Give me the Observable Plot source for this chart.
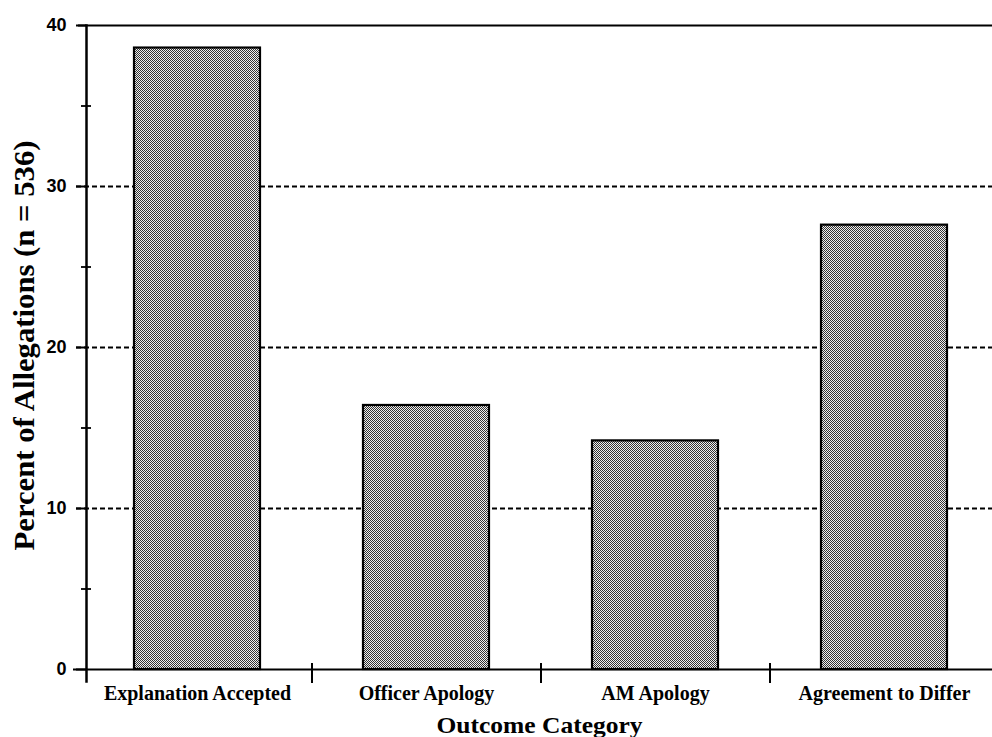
<!DOCTYPE html>
<html><head><meta charset="utf-8">
<script src="https://cdn.jsdelivr.net/npm/d3@7"></script>
<script src="https://cdn.jsdelivr.net/npm/@observablehq/plot@0.6"></script>
<style>body{margin:0;background:#fff}</style>
</head><body><div id="chart"></div>
<script>
const categories = ["Explanation Accepted", "Officer Apology", "AM Apology", "Agreement to Differ"];
const percents = [38.6, 16.4, 14.2, 27.6];
const majorTicks = [0, 10, 20, 30, 40];
const gridTicks = [10, 20, 30];
const minorTicks = [5, 15, 25, 35];
const yLabel = "Percent of Allegations (n = 536)";
const xLabel = "Outcome Category";

const data = categories.map((c, i) => ({category: c, value: percents[i]}));
const W = 992, ML = 86;
const xRange = [82, 998];
const step = (xRange[1] - xRange[0]) / categories.length;
const serif = "'Liberation Serif', 'DejaVu Serif', serif";
const sans = "'Liberation Sans', Arial, sans-serif";

const chart = Plot.plot({
  width: W, height: 737,
  marginLeft: ML, marginRight: 0, marginTop: 25, marginBottom: 68,
  style: {background: "#fff", overflow: "visible", color: "#000"},
  x: {domain: categories, range: xRange, paddingInner: 0.45, paddingOuter: 0.225, axis: null},
  y: {domain: [0, 40], range: [669, 25], axis: null},
  marks: [
    // dashed gridlines
    Plot.gridY(gridTicks, {stroke: "#000", strokeOpacity: 1, strokeWidth: 2, strokeDasharray: "5,3", insetLeft: -10}),
    // top solid line at 40
    Plot.gridY([40], {stroke: "#000", strokeOpacity: 1, strokeWidth: 2, insetLeft: -8}),
    // baseline at 0
    Plot.ruleY([0], {stroke: "#000", strokeWidth: 2, insetLeft: -13}),
    // y-axis line
    Plot.frame({anchor: "left", stroke: "#000", strokeWidth: 2.5, insetBottom: -12}),
    // major ticks and labels
    Plot.axisY(majorTicks, {anchor: "left", label: null, tickSize: 10, tickPadding: 10, strokeWidth: 2, fontFamily: sans, fontWeight: "bold", fontSize: 18}),
    // minor ticks crossing the axis
    Plot.tickY(minorTicks, {y: d => d, stroke: "#000", strokeWidth: 1.8, insetLeft: -5, insetRight: W - ML - 5}),
    // bars
    Plot.barY(data, {x: "category", y: "value", fill: "url(#stipple)", stroke: "#000", strokeWidth: 2.2}),
    // category separators
    Plot.ruleX(categories.slice(1), {x: d => d, dx: -step / 2, y: 0, insetTop: -6, insetBottom: -14, stroke: "#000", strokeWidth: 2}),
    // x tick labels
    Plot.text(data, {x: "category", y: 0, text: "category", lineAnchor: "bottom", dy: 30, fontFamily: serif, fontWeight: "bold", fontSize: 20, fill: "#000"}),
    // x label
    Plot.text([xLabel], {frameAnchor: "bottom", text: d => d, lineAnchor: "bottom", textAnchor: "middle", dy: 63, fontFamily: serif, fontWeight: "bold", fontSize: 24, fill: "#000", className: "xlab"}),
    // y label
    Plot.text([yLabel], {frameAnchor: "left", textAnchor: "middle", lineAnchor: "bottom", dx: -53, dy: -2, rotate: -90, text: d => d, fontFamily: serif, fontWeight: "bold", fontSize: 29, fill: "#000", className: "ylab"})
  ]
});

// stretch axis titles to the reference widths
chart.querySelectorAll(".xlab text").forEach(t => { t.setAttribute("textLength", "206"); t.setAttribute("lengthAdjust", "spacingAndGlyphs"); });
chart.querySelectorAll(".ylab text").forEach(t => { t.setAttribute("textLength", "410"); t.setAttribute("lengthAdjust", "spacingAndGlyphs"); });

// stipple pattern for bars
const ns = "http://www.w3.org/2000/svg";
const defs = document.createElementNS(ns, "defs");
const pat = document.createElementNS(ns, "pattern");
pat.setAttribute("id", "stipple");
pat.setAttribute("width", "2"); pat.setAttribute("height", "2");
pat.setAttribute("patternUnits", "userSpaceOnUse");
const bg = document.createElementNS(ns, "rect");
bg.setAttribute("width", "2"); bg.setAttribute("height", "2"); bg.setAttribute("fill", "#efefef");
pat.appendChild(bg);
[[0,0],[1,1]].forEach(([x, y]) => {
  const r = document.createElementNS(ns, "rect");
  r.setAttribute("x", x); r.setAttribute("y", y);
  r.setAttribute("width", "1"); r.setAttribute("height", "1");
  r.setAttribute("fill", "#333");
  pat.appendChild(r);
});
defs.appendChild(pat);
chart.insertBefore(defs, chart.firstChild);
document.getElementById("chart").appendChild(chart);
</script>
</body></html>
